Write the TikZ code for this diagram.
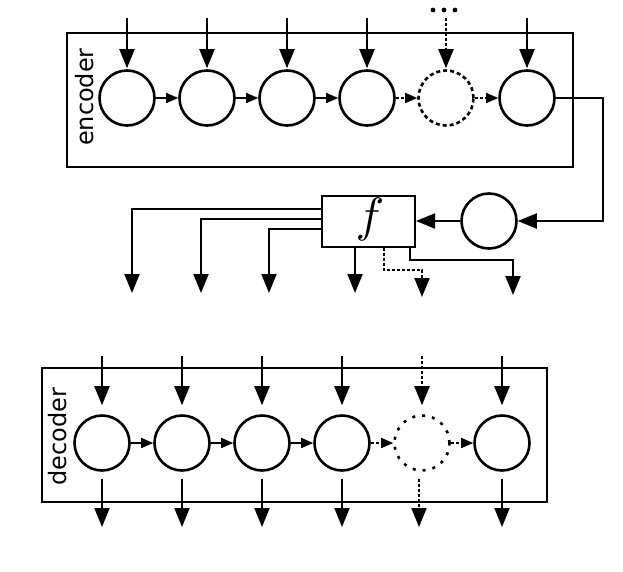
\documentclass[tikz,border=0pt]{standalone}
\usepackage{fontspec}
\usepackage{graphicx}
\setsansfont{DejaVu Sans}
\usetikzlibrary{arrows.meta}
\begin{document}
\begin{tikzpicture}[x=1pt,y=-1pt,
  circ/.style={draw, circle, minimum size=55pt, inner sep=0pt, line width=2.6pt},
  dcirc/.style={circ, dash pattern=on 4pt off 3pt},
  ddcirc/.style={circ, dash pattern=on 3pt off 7pt},
  boxx/.style={draw, line width=2pt, inner sep=0pt},
  big/.style={line width=2pt, -{Triangle[length=19pt,width=15pt]}},
  small/.style={line width=1.6pt, -{Triangle[length=12pt,width=10pt]}},
  dsh/.style={dash pattern=on 3pt off 2pt},
  lbl/.style={font=\sffamily\fontsize{24}{28}\selectfont, rotate=90, inner sep=0pt}
]
\useasboundingbox (0,0) rectangle (623,571);
% encoder
\node[boxx, minimum width=506pt, minimum height=134pt] (enc) at (320,100) {};
\node[lbl] (encl) at (85,97) {encoder};
\foreach \i/\x in {1/127,2/207,3/287,4/367,6/527}{
  \node[circ] (e\i) at (\x,98) {};
  \coordinate (ei\i) at (\x,18);
  \draw[big, shorten >=1pt] (ei\i) -- (e\i.north);
}
\node[dcirc] (e5) at (446,98) {};
\coordinate (ei5) at (446,18);
\draw[big, dsh, shorten >=1pt] (ei5) -- (e5.north);
\foreach \x in {433,444,455} \fill (\x,10) circle (2.4pt);
\draw[small] (e1) -- (e2);
\draw[small] (e2) -- (e3);
\draw[small] (e3) -- (e4);
\draw[small, dsh] (e4) -- (e5);
\draw[small, dsh] (e5) -- (e6);
% middle
\node[circ] (m) at (489,221) {};
\node[boxx, minimum width=93pt, minimum height=51pt] (f) at (368.5,221) {};
\node (fl) at (370,219) {\scalebox{4.8}{$f$}};
\coordinate (c1) at (603,221);
\draw[big] (e6.east) -| (c1) -- (m.east);
\draw[big] (m.west) -- (f.east);
\coordinate (o1) at (132,293);
\coordinate (o2) at (201,293);
\coordinate (o3) at (269,293);
\coordinate (o4) at (355,293);
\coordinate (o5) at (422,297);
\coordinate (o6) at (513,295);
\draw[big] ([yshift=12.5pt]f.west) -| (o1);
\draw[big] ([yshift=2pt]f.west) -| (o2);
\draw[big] ([yshift=-8pt]f.west) -| (o3);
\draw[big] (f.south -| o4) -- (o4);
\draw[big, dsh] ([xshift=15.5pt]f.south) |- ++(0,22) -| (o5);
\draw[big] ([xshift=41.5pt]f.south) |- ++(0,12) -| (o6);
% decoder
\node[boxx, minimum width=505pt, minimum height=134pt] (dec) at (294.5,435) {};
\node[lbl] (decl) at (58,437) {decoder};
\foreach \i/\x in {1/102,2/182,3/262,4/342,6/502}{
  \node[circ] (d\i) at (\x,443) {};
  \coordinate (di\i) at (\x,356);
  \coordinate (do\i) at (\x,527);
  \draw[big, shorten >=9pt] (di\i) -- (d\i.north);
  \draw[big, shorten <=7pt] (d\i.south) -- (do\i);
}
\node[ddcirc] (d5) at (422,443) {};
\coordinate (di5) at (422,356);
\coordinate (do5) at (419,527);
\draw[big, dsh, shorten >=9pt] (di5) -- (d5.north);
\draw[big, dsh, shorten <=7pt] (d5.south -| do5) -- (do5);
\draw[small] (d1) -- (d2);
\draw[small] (d2) -- (d3);
\draw[small] (d3) -- (d4);
\draw[small, dsh] (d4) -- (d5);
\draw[small, dsh] (d5) -- (d6);
\end{tikzpicture}
\end{document}
